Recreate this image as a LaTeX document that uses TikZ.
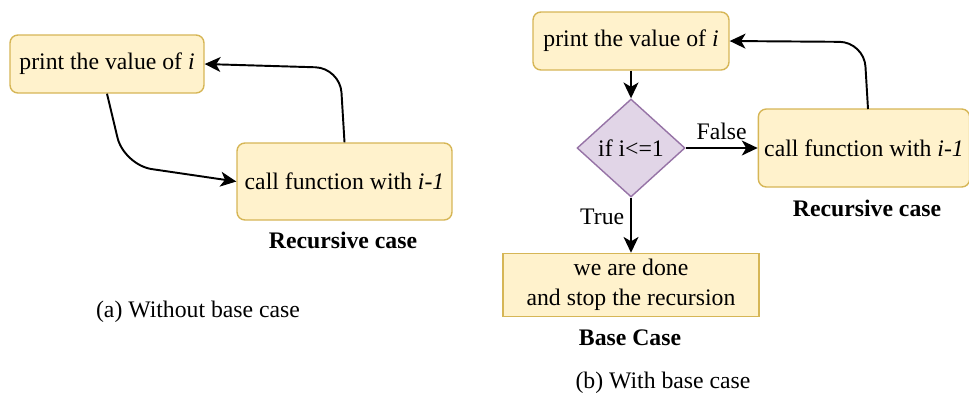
\documentclass[tikz,border=0pt]{standalone}
\usepackage{fontspec}
\setmainfont{LiberationSerif}[Extension=.ttf, UprightFont=*-Regular, BoldFont=*-Bold, ItalicFont=*-Italic, BoldItalicFont=*-BoldItalic]
\usetikzlibrary{shapes.geometric,arrows.meta,positioning}
\definecolor{boxfill}{HTML}{FFF2CC}
\definecolor{boxline}{HTML}{D6B656}
\definecolor{condfill}{HTML}{E1D5E7}
\definecolor{condline}{HTML}{9673A6}

\begin{document}
\begin{tikzpicture}[x=0.02cm,y=-0.02cm, every node/.style={font=\fontsize{13.5}{17}\selectfont},
    box/.style={draw=boxline, fill=boxfill, line width=0.8pt, rounded corners=4.5pt},
    cond/.style={draw=condline, fill=condfill, line width=0.8pt, diamond, aspect=1.1, inner sep=0pt},
    arr/.style={-{Stealth[length=9pt,width=8.5pt,inset=2.5pt]}, line width=1.1pt}]
    \useasboundingbox (0,0) rectangle (969,397);
    % (a) without base case
    \node[box, minimum width=3.88cm, minimum height=1.16cm] (printa) at (107,64) {print the value of \textit{i}};
    \node[box, minimum width=4.3cm, minimum height=1.54cm] (calla) at (344.5,181.5) {call function with \textit{i-1}};
    \node[font=\fontsize{13.5}{17}\selectfont\bfseries] (reca) at (343,240) {Recursive case};
    \node (capa) at (198,312) {(a) Without base case};
    \draw[arr, rounded corners=16pt] (printa.south) -- (124,165) -- (calla.west);
    \draw[arr, rounded corners=14pt] (calla.north) -- (340,68) -- (printa.east);
    % (b) with base case
    \node[box, minimum width=3.92cm, minimum height=1.16cm] (printb) at (631,41) {print the value of \textit{i}};
    \node[cond, minimum width=2.16cm, minimum height=1.96cm] (test) at (631,148) {if i<=1};
    \node[box, minimum width=4.16cm, minimum height=1.56cm] (callb) at (864,148) {call function with \textit{i-1}};
    \node[box, rounded corners=0pt, align=center, minimum width=5.12cm, minimum height=1.2cm] (done) at (631,285) {we are done\\and stop the recursion};
    \node[font=\fontsize{13.5}{17}\selectfont\bfseries] (recb) at (867,208) {Recursive case};
    \node[font=\fontsize{13.5}{17}\selectfont\bfseries] (base) at (630,338) {Base Case};
    \node (capb) at (663,383) {(b) With base case};
    \draw[arr] (printb) -- (test);
    \draw[arr] (test) -- node[above=1pt] {False} (callb);
    \draw[arr] (test) -- node[left, pos=0.35] {True} (done);
    \draw[arr, rounded corners=14pt] (868,109) -- (864,42) -- (printb.east);
\end{tikzpicture}
\end{document}
